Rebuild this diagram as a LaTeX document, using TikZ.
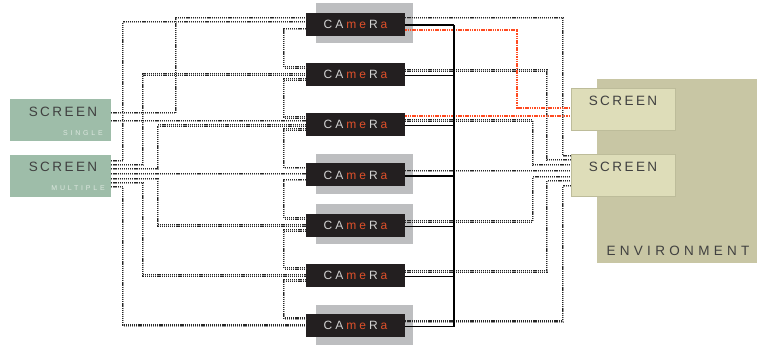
\documentclass[tikz,border=0pt]{standalone}
\usepackage{fontspec}
\setmainfont{Liberation Sans}
\newfontfamily\scrfont[LetterSpace=18]{Liberation Sans}
\newfontfamily\subfont[LetterSpace=40]{Liberation Sans}
\newfontfamily\envfont[LetterSpace=32]{Liberation Sans}
\usepackage{tikz}
\usetikzlibrary{positioning}
\usepackage{xcolor}
\definecolor{leftgreen}{HTML}{9EBDA9}
\definecolor{subgrey}{HTML}{DCE7DF}
\definecolor{labeltxt}{HTML}{404040}
\definecolor{camblack}{HTML}{231F20}
\definecolor{camshade}{HTML}{BDBEC0}
\definecolor{camgrey}{HTML}{D2D2D2}
\definecolor{camred}{HTML}{E0502A}
\definecolor{envfill}{HTML}{C8C6A4}
\definecolor{envscreen}{HTML}{DEDDB9}
\definecolor{envline}{HTML}{BDBC9A}
\definecolor{redwire}{HTML}{FF4A20}
\newcommand{\camname}{C\kern3pt A\kern3pt\textcolor{camred}{m\kern3pt e}\kern3pt R\kern3pt\textcolor{camred}{a}}
\tikzstyle{camera}   = [fill=camblack, minimum width=99pt, minimum height=23pt, inner sep=0pt, text=camgrey, font=\fontsize{12}{13}\selectfont]
\tikzstyle{camshade} = [fill=camshade, minimum width=97pt, minimum height=40pt, inner sep=0pt]
\tikzstyle{lscreen}  = [fill=leftgreen, minimum width=101pt, minimum height=42pt, inner sep=0pt]
\tikzstyle{rscreen}  = [fill=envscreen, draw=envline, line width=0.5pt, minimum width=104pt, minimum height=42pt, inner sep=0pt]
\tikzstyle{scrtxt}   = [text=labeltxt, inner sep=0pt, font=\scrfont\fontsize{13.5}{14}\selectfont]
\tikzstyle{subtxt}   = [text=subgrey, inner sep=0pt, font=\subfont\fontsize{7}{8}\selectfont]
\tikzstyle{wire}     = [draw=black!85, line width=1.1pt, double=black!40, double distance=0.6pt, dash pattern=on 1.2pt off 0.9pt]
\tikzstyle{redwire}  = [draw=redwire, line width=1.6pt, dash pattern=on 1.5pt off 0.8pt]
\tikzstyle{bus}      = [draw=black, line width=1.3pt]

\begin{document}
\begin{tikzpicture}[x=1pt, y=-1pt]
\useasboundingbox (0,0) rectangle (769,349);

% environment on the right
\node[fill=envfill, minimum width=160pt, minimum height=184pt, inner sep=0pt] (env) at (677,171) {};
\node[rscreen] (envScr1) at (623,109) {};
\node[rscreen] (envScr2) at (623,175) {};
\node[scrtxt] (envScr1T) at (623,101) {SCREEN};
\node[scrtxt] (envScr2T) at (623,167) {SCREEN};
\node[text=labeltxt, inner sep=0pt, font=\envfont\fontsize{13.5}{14}\selectfont] (envT) at (678,251) {ENVIRONMENT};

% screens on the left
\node[lscreen] (scrSingle) at (60.5,120) {};
\node[lscreen] (scrMulti)  at (60.5,175.5) {};
\node[scrtxt] (scrSingleT) at (63,112) {SCREEN};
\node[scrtxt] (scrMultiT)  at (63,167) {SCREEN};
\node[subtxt, anchor=east] (scrSingleS) at (103,133) {SINGLE};
\node[subtxt, anchor=east] (scrMultiS)  at (105,188) {MULTIPLE};

% cameras
\foreach \k in {1,4,5,7}
  \node[camshade] (shade\k) at (364.5,{23+50.3*(\k-1)}) {};
\foreach \k in {1,...,7}
  \node[camera] (cam\k) at (355.5,{24+50.3*(\k-1)}) {\camname};

% left: screen multiple
\foreach \c/\x/\y/\s in {1/123/161/2, 2/143/165/0, 3/158/169/-1, 5/158/179/0, 6/143/183/0, 7/123/187/0}
  \draw[wire] (scrMulti.east |- 0,\y) -| ([yshift=\s pt]cam\c.west -| \x,0) -- ([yshift=\s pt]cam\c.west);
\draw[wire] (scrMulti.east |- 0,174) -- (cam4.west |- 0,174);

% left: screen single
\draw[wire] (scrSingle.east |- 0,113) -| ([yshift=6pt]cam1.west -| 176,0) -- ([yshift=6pt]cam1.west);
\draw[wire] (scrSingle.east |- 0,121) -- (cam3.west |- 0,121);

% chain between cameras
\foreach \k [evaluate=\k as \n using int(\k+1)] in {1,...,6}
  \draw[wire] ([yshift=-5pt]cam\k.west) -| ([yshift=7pt]cam\n.west -| 284,0) -- ([yshift=7pt]cam\n.west);

% right: to environment screens
\foreach \c/\x/\y/\s in {1/563/156/6, 2/547/160/4, 3/533/165/4, 5/533/177/4, 6/547/181/4, 7/563/186/4}
  \draw[wire] ([yshift=\s pt]cam\c.east) -| (\x,\y) -- (envScr2.west |- 0,\y);
\draw[wire] ([yshift=4pt]cam4.east) -- ([yshift=4pt]cam4.east -| envScr2.west);

\draw[redwire] ([yshift=-6pt]cam1.east) -| (517,108) -- (envScr1.west |- 0,108);
\draw[redwire] (cam3.east |- 0,116) -- (envScr1.west |- 0,116);

% solid bus
\coordinate (busTop) at ([yshift=-1pt]cam1.east -| 454,0);
\coordinate (busBot) at ([yshift=-1pt]cam7.east -| 454,0);
\foreach \k in {1,...,7}
  \draw[bus] ([yshift=-1pt]cam\k.east) -- ([yshift=-1pt]cam\k.east -| busTop);
\draw[bus] (busTop) -- (busBot);

\end{tikzpicture}
\end{document}
